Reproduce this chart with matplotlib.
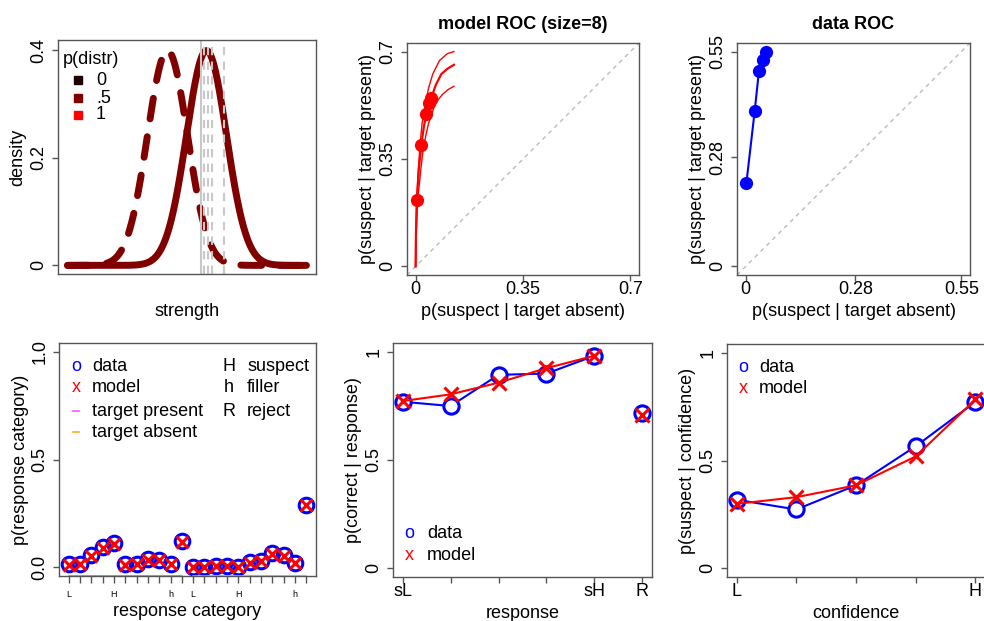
import numpy as np
import matplotlib
matplotlib.use("Agg")
import matplotlib.pyplot as plt
import matplotlib.transforms as mtransforms

plt.rcParams["font.family"] = ["Liberation Sans", "DejaVu Sans"]
plt.rcParams["font.size"] = 13

FIG_W, FIG_H = 984, 621
BOX = "#555555"
MAROON = "#800000"
LIGHT_GRAY = "#c8c8c8"
PINK = "#ff4fff"
ORANGE = "#ffae1a"

# ---- strength distributions (top left) ----
lure_mean = 0.0
target_mean = 1.95
strength_sd = 1.0
strength_lo, strength_hi = -5.0, 6.95
criteria = [1.7, 1.85, 2.05, 2.23, 2.85]
distr_levels = ["0", ".5", "1"]
distr_colors = ["#200000", "#800000", "#ff0000"]

# ---- model ROC (top middle) ----
model_roc_far = [0.004, 0.0185, 0.035, 0.043, 0.051]
model_roc_hr = [0.215, 0.396, 0.497, 0.532, 0.549]
roc_upper_far = [0.0, 0.001, 0.004, 0.008, 0.014, 0.021, 0.030, 0.042, 0.056, 0.078, 0.103, 0.125]
roc_upper_hr = [0.0, 0.12, 0.22, 0.30, 0.39, 0.465, 0.52, 0.58, 0.627, 0.671, 0.693, 0.700]
roc_mid_far = [0.0, 0.001, 0.004, 0.010, 0.0185, 0.027, 0.035, 0.043, 0.051, 0.066, 0.084, 0.105, 0.125]
roc_mid_hr = [0.0, 0.10, 0.215, 0.31, 0.396, 0.455, 0.497, 0.532, 0.549, 0.592, 0.627, 0.645, 0.657]
roc_lower_far = [0.0, 0.002, 0.005, 0.010, 0.017, 0.024, 0.033, 0.042, 0.060, 0.075, 0.089, 0.107, 0.125]
roc_lower_hr = [0.0, 0.10, 0.18, 0.247, 0.315, 0.378, 0.425, 0.465, 0.519, 0.545, 0.562, 0.577, 0.587]

# ---- data ROC (top right) ----
data_roc_far = [0.002, 0.023, 0.034, 0.044, 0.051]
data_roc_hr = [0.214, 0.397, 0.501, 0.529, 0.549]

# ---- response categories (bottom left) ----
resp_data = [0.014, 0.014, 0.056, 0.094, 0.111, 0.014, 0.017, 0.037, 0.034, 0.014, 0.120,
             0.003, 0.003, 0.008, 0.008, 0.000, 0.023, 0.030, 0.065, 0.056, 0.019, 0.290]
resp_model = [0.013, 0.015, 0.055, 0.092, 0.110, 0.013, 0.016, 0.036, 0.034, 0.014, 0.118,
              0.004, 0.004, 0.007, 0.007, 0.002, 0.022, 0.031, 0.064, 0.055, 0.018, 0.290]
resp_tick_labels = ["L", "", "", "", "H", "", "", "", "", "h", "",
                    "L", "", "", "", "H", "", "", "", "", "h", ""]

# ---- accuracy by confidence (bottom middle) ----
acc_labels = ["sL", "", "", "", "sH", "R"]
acc_data = [0.769, 0.749, 0.893, 0.899, 0.981]
acc_model = [0.772, 0.803, 0.857, 0.924, 0.981]
acc_reject_data = 0.715
acc_reject_model = 0.710

# ---- p(suspect | confidence) (bottom right) ----
conf_labels = ["L", "", "", "", "H"]
susp_data = [0.318, 0.273, 0.385, 0.566, 0.772]
susp_model = [0.299, 0.330, 0.385, 0.519, 0.783]


def px_axes(fig, left, top, right, bottom):
    return fig.add_axes([left / FIG_W, 1 - bottom / FIG_H,
                         (right - left) / FIG_W, (bottom - top) / FIG_H])


def r_style(ax, w, h, xlabel, ylabel, xlab_off=37, ylab_off=39):
    for sp in ax.spines.values():
        sp.set_color(BOX)
        sp.set_linewidth(1)
    ax.tick_params(direction="out", length=4.5, width=1, color=BOX, labelsize=13)
    ax.tick_params(axis="x", pad=-0.5)
    ax.tick_params(axis="y", pad=3)
    ax.set_xlabel(xlabel, va="center")
    ax.xaxis.set_label_coords(0.5, -xlab_off / h)
    ax.set_ylabel(ylabel, va="center")
    ax.yaxis.set_label_coords(-ylab_off / w, 0.5)


def r_lim(lo, hi):
    pad = (hi - lo) * 0.04
    return lo - pad, hi + pad


def legend_rows(ax, rows, sym_x, lab_x):
    for y, sym, color, label in rows:
        if sym == "-":
            ax.plot([sym_x - 0.012, sym_x + 0.012], [y, y], color=color, lw=1.2,
                    transform=ax.transAxes, clip_on=False)
        else:
            ax.text(sym_x, y, sym, color=color, ha="center", va="center",
                    transform=ax.transAxes)
        ax.text(lab_x, y, label, ha="left", va="center", transform=ax.transAxes)


fig = plt.figure(figsize=(FIG_W / 100, FIG_H / 100), dpi=100)

# ---------------- top left ----------------
ax = px_axes(fig, 58, 40, 316, 274)
xs = np.linspace(strength_lo, strength_hi, 600)
lure = np.exp(-0.5 * ((xs - lure_mean) / strength_sd) ** 2) / (strength_sd * np.sqrt(2 * np.pi))
target = np.exp(-0.5 * ((xs - target_mean) / strength_sd) ** 2) / (strength_sd * np.sqrt(2 * np.pi))
ax.plot(xs, target, color=MAROON, lw=5, solid_capstyle="round", solid_joinstyle="round")
ax.plot(xs, lure, color=MAROON, lw=5, dashes=(3.0, 2.6), dash_capstyle="round")
for i, c in enumerate(criteria):
    if i == 0:
        ax.axvline(c, color=LIGHT_GRAY, lw=1.5)
    else:
        ax.axvline(c, color=LIGHT_GRAY, lw=1.5, dashes=(4, 3))
ax.set_xlim(*r_lim(strength_lo, strength_hi))
ax.set_ylim(-0.016, 0.4186)
ax.set_xticks([])
ax.set_yticks([0, 0.2, 0.4], ["0", "0.2", "0.4"], rotation=90, va="center")
r_style(ax, 258, 234, "strength", "density", xlab_off=38, ylab_off=40)
ax.text(0.019, 0.915, "p(distr)", ha="left", va="center", transform=ax.transAxes)
for y, lab, col in zip([0.829, 0.752, 0.680], distr_levels, distr_colors):
    ax.plot([0.078], [y], marker="s", ms=6, color=col, transform=ax.transAxes, clip_on=False)
    ax.text(0.147, y, lab, ha="left", va="center", transform=ax.transAxes)

# ---------------- top middle ----------------
ax = px_axes(fig, 407, 43, 639, 275)
lim = r_lim(0, 0.7)
ax.plot(lim, lim, color="#bbbbbb", lw=1, dashes=(3, 3))
ax.plot(roc_upper_far, roc_upper_hr, color="red", lw=1)
ax.plot(roc_lower_far, roc_lower_hr, color="red", lw=1)
ax.plot(roc_mid_far, roc_mid_hr, color="red", lw=1.6)
ax.plot(model_roc_far, model_roc_hr, "o", color="red", ms=8.5)
ax.set_xlim(*lim)
ax.set_ylim(*lim)
ax.set_xticks([0, 0.35, 0.7], ["0", "0.35", "0.7"])
ax.set_yticks([0, 0.35, 0.7], ["0", "0.35", "0.7"], rotation=90, va="center")
r_style(ax, 232, 232, "p(suspect | target absent)", "p(suspect | target present)")
ax.set_title("model ROC (size=8)", fontweight="bold", fontsize=13, pad=10)

# ---------------- top right ----------------
ax = px_axes(fig, 737, 43, 970, 275)
lim = r_lim(0, 0.55)
ax.plot(lim, lim, color="#bbbbbb", lw=1, dashes=(3, 3))
ax.plot(data_roc_far, data_roc_hr, "-o", color="blue", lw=1.5, ms=8.5)
ax.set_xlim(*lim)
ax.set_ylim(*lim)
ax.set_xticks([0, 0.28, 0.55], ["0", "0.28", "0.55"])
ax.set_yticks([0, 0.28, 0.55], ["0", "0.28", "0.55"], rotation=90, va="center")
r_style(ax, 233, 232, "p(suspect | target absent)", "p(suspect | target present)")
ax.set_title("data ROC", fontweight="bold", fontsize=13, pad=10)

# ---------------- bottom left ----------------
ax = px_axes(fig, 59, 343, 316, 576)
cats = np.arange(1, len(resp_data) + 1)
ax.plot(cats, resp_data, "o", mfc="none", mec="blue", mew=2.2, ms=10.5)
ax.plot(cats, resp_model, "x", color="red", mew=2.2, ms=9)
ax.set_xlim(*r_lim(1, len(cats)))
ax.set_ylim(*r_lim(0, 1))
ax.set_yticks([0, 0.5, 1], ["0.0", "0.5", "1.0"], rotation=90, va="center")
ax.set_xticks(cats, resp_tick_labels)
r_style(ax, 257, 233, "response category", "p(response category)", xlab_off=36)
ax.tick_params(axis="x", labelsize=6.5, pad=5, length=5)
half = len(cats) // 2
for i, t in enumerate(ax.xaxis.get_major_ticks()):
    t.tick1line.set_color(PINK if i < half else ORANGE)
trans = mtransforms.blended_transform_factory(ax.transData, ax.transAxes)
ax.plot([cats[0], cats[half - 1]], [0, 0], color=PINK, lw=1.2, transform=trans, clip_on=False)
ax.plot([cats[half], cats[-1]], [0, 0], color=ORANGE, lw=1.2, transform=trans, clip_on=False)
legend_rows(ax, [(0.901, "o", "blue", "data"),
                 (0.807, "x", "red", "model"),
                 (0.708, "-", PINK, "target present"),
                 (0.618, "-", ORANGE, "target absent")], 0.066, 0.128)
legend_rows(ax, [(0.901, "H", "black", "suspect"),
                 (0.807, "h", "black", "filler"),
                 (0.708, "R", "black", "reject")], 0.661, 0.732)

# ---------------- bottom middle ----------------
ax = px_axes(fig, 393, 343, 652, 577)
pos = np.arange(1, len(acc_data) + 1)
reject_pos = len(acc_labels)
ax.plot(pos, acc_data, "-", color="blue", lw=1.5)
ax.plot(pos, acc_data, "o", mfc="white", mec="blue", mew=2.2, ms=11)
ax.plot([reject_pos], [acc_reject_data], "o", mfc="white", mec="blue", mew=2.2, ms=11)
ax.plot(pos, acc_model, "-", color="red", lw=1.5)
ax.plot(pos, acc_model, "x", color="red", mew=2.2, ms=9.5)
ax.plot([reject_pos], [acc_reject_model], "x", color="red", mew=2.2, ms=9.5)
ax.set_xlim(*r_lim(1, reject_pos))
ax.set_ylim(*r_lim(0, 1))
ax.set_xticks(np.arange(1, reject_pos + 1), acc_labels)
ax.set_yticks([0, 0.5, 1], ["0", "0.5", "1"], rotation=90, va="center")
r_style(ax, 259, 234, "response", "p(correct | response)", xlab_off=36)
legend_rows(ax, [(0.188, "o", "blue", "data"),
                 (0.090, "x", "red", "model")], 0.062, 0.131)

# ---------------- bottom right ----------------
ax = px_axes(fig, 727, 344, 985, 577)
pos = np.arange(1, len(susp_data) + 1)
ax.plot(pos, susp_data, "-", color="blue", lw=1.5)
ax.plot(pos, susp_data, "o", mfc="white", mec="blue", mew=2.2, ms=11)
ax.plot(pos, susp_model, "-", color="red", lw=1.5)
ax.plot(pos, susp_model, "x", color="red", mew=2.2, ms=9.5)
ax.set_xlim(*r_lim(1, len(pos)))
ax.set_ylim(*r_lim(0, 1))
ax.set_xticks(pos, conf_labels)
ax.set_yticks([0, 0.5, 1], ["0", "0.5", "1"], rotation=90, va="center")
r_style(ax, 258, 233, "confidence", "p(suspect | confidence)", xlab_off=36)
legend_rows(ax, [(0.901, "o", "blue", "data"),
                 (0.807, "x", "red", "model")], 0.062, 0.124)

fig.savefig("out.png", dpi=100)
